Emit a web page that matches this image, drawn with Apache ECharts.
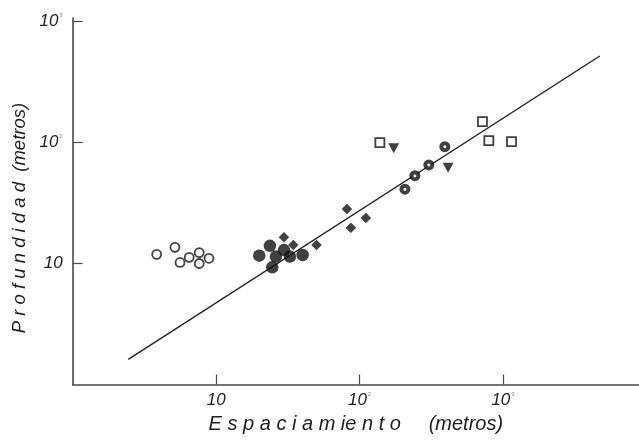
<!DOCTYPE html>
<html>
<head>
<meta charset="utf-8">
<script src="https://cdn.jsdelivr.net/npm/echarts@6/dist/echarts.min.js"></script>
<style>
html,body{margin:0;padding:0;background:#fff;}
#c{width:639px;height:441px;}
</style>
</head>
<body>
<div id="c"></div>
<script>
// Data (x = Espaciamiento, y = Profundidad), metros
var openCircles = [[3.85,11.9],[5.16,13.6],[5.6,10.2],[6.49,11.25],[7.62,12.3],[7.62,10.0],[8.91,11.04]];
var filledCircles = [[19.97,11.6],[23.7,14.0],[26.1,11.4],[29.7,12.9],[32.7,11.4],[40.1,11.75],[24.6,9.3]];
var diamonds = [[29.7,16.5],[34.5,14.2],[50.1,14.2],[81.6,28.2],[87.0,19.7],[110.6,23.8]];
var ringCircles = [[207,41.1],[243,53.2],[304,65.2],[393,92.3]];
var triangles = [[173,89.6],[414,61.9]];
var squares = [[138.5,99.6],[719,148.6],[796,103.5],[1146,101.6]];
var fitLine = [[2.44,1.615],[4727,518.7]];
var tickValues = [10,100,1000];
var xAxisTitle = 'E s p a c i a m ie n t o     (metros)';
var yAxisTitle = 'P r o f u n d i d a d  (metros)';

var chart = echarts.init(document.getElementById('c'), null, {renderer:'canvas'});
var axisColor = '#4a4a4a';
var textColor = '#1e1e1e';
var fam = '"Liberation Sans", Arial, sans-serif';

function fmt(v){
  var e = Math.round(Math.log10(v));
  if (e === 1) return '{b|10}';
  return '{b|10}{s|' + e + '}';
}
var rich = {
  b:{fontSize:17,fontStyle:'italic',fontFamily:fam,color:textColor,lineHeight:18},
  s:{fontSize:6,fontFamily:fam,color:'#888',verticalAlign:'top',lineHeight:18,padding:[0,0,0,1]}
};

var option = {
  backgroundColor:'#fff',
  animation:false,
  grid:{left:72.7,right:0,top:18,bottom:56.5,containLabel:false},
  xAxis:{
    type:'log', logBase:10, min:1, max:8870,
    splitLine:{show:false},
    axisLine:{show:true,lineStyle:{color:axisColor,width:1.6}},
    axisTick:{show:true,inside:true,length:10,lineStyle:{color:axisColor,width:1.2},customValues:tickValues},
    axisLabel:{show:true,margin:7,customValues:tickValues,formatter:fmt,rich:rich},
    name:xAxisTitle, nameLocation:'middle', nameGap:30,
    nameTextStyle:{fontSize:20,fontStyle:'italic',fontFamily:fam,color:textColor}
  },
  yAxis:{
    type:'log', logBase:10, min:1, max:1069,
    splitLine:{show:false},
    axisLine:{show:true,lineStyle:{color:axisColor,width:1.6}},
    axisTick:{show:true,inside:true,length:10,lineStyle:{color:axisColor,width:1.2},customValues:tickValues},
    axisLabel:{show:true,margin:10,customValues:tickValues,formatter:fmt,rich:rich}
  },
  graphic:[{
    type:'text', x:20, y:218, rotation:Math.PI/2,
    style:{text:yAxisTitle, fontSize:18.5, fontStyle:'italic', fontFamily:fam, fill:textColor, align:'center', verticalAlign:'middle'}
  }],
  series:[
    {type:'line', data:fitLine, showSymbol:false, symbol:'none', lineStyle:{color:'#222',width:1.4}, z:1},
    {type:'scatter', data:openCircles, symbol:'circle', symbolSize:9, itemStyle:{color:'#fff',borderColor:'#111',borderWidth:1.8}, z:3},
    {type:'scatter', data:filledCircles, symbol:'circle', symbolSize:12.5, itemStyle:{color:'#111'}, z:3},
    {type:'scatter', data:diamonds, symbol:'diamond', symbolSize:[10.5,10.5], itemStyle:{color:'#111'}, z:3},
    {type:'scatter', data:ringCircles, symbol:'circle', symbolSize:7, itemStyle:{color:'#fff',borderColor:'#111',borderWidth:4}, z:3},
    {type:'scatter', data:triangles, symbol:'triangle', symbolRotate:180, symbolSize:[11,10], itemStyle:{color:'#111'}, z:3},
    {type:'scatter', data:squares, symbol:'rect', symbolSize:9, itemStyle:{color:'#fff',borderColor:'#111',borderWidth:1.8}, z:3}
  ]
};
chart.setOption(option);
</script>
</body>
</html>
